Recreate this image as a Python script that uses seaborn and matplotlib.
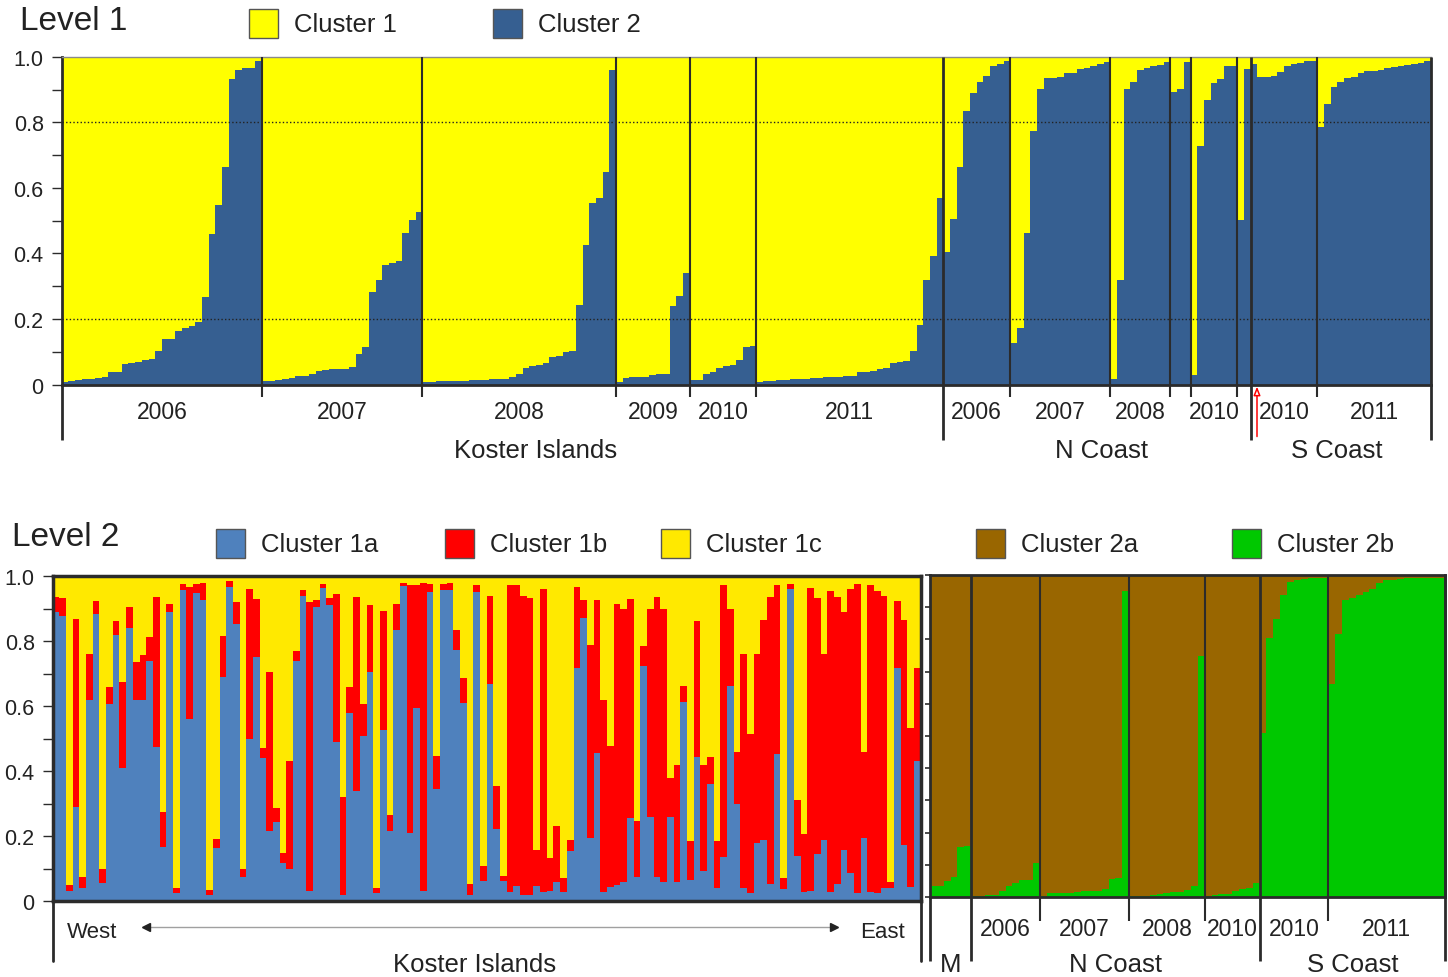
"""
STRUCTURE admixture bar plots (Level 1 / Level 2 clustering)
Run with: python plot.py  -> writes out.png
"""
import numpy as np
import matplotlib
matplotlib.use('Agg')
import matplotlib.pyplot as plt
from matplotlib.patches import Rectangle
from matplotlib.ticker import MultipleLocator, FixedLocator
import seaborn as sns

sns.set_style('white')
plt.rcParams['font.family'] = ['Liberation Sans', 'DejaVu Sans']

# colours
YEL1 = '#FFFF00'
BLUE1 = '#365F91'
BLUE2 = '#4F81BD'
RED2 = '#FF0000'
YEL2 = '#FFE900'
BROWN = '#996600'
GREEN = '#00C800'
DARK = '#2b2b2b'
TXT = '#222222'

# ── LEVEL 1: share of Cluster 2 per individual ───────────────
k_2006 = [0.009, 0.012, 0.014, 0.016, 0.016, 0.020, 0.024, 0.038, 0.040, 0.063,
          0.066, 0.070, 0.075, 0.079, 0.104, 0.139, 0.139, 0.163, 0.174, 0.180,
          0.192, 0.266, 0.459, 0.549, 0.665, 0.932, 0.959, 0.965, 0.965, 0.986]
k_2007 = [0.011, 0.011, 0.014, 0.016, 0.019, 0.026, 0.028, 0.032, 0.042, 0.045,
          0.047, 0.048, 0.049, 0.053, 0.093, 0.116, 0.284, 0.319, 0.365, 0.371,
          0.378, 0.464, 0.502, 0.527]
k_2008 = [0.008, 0.009, 0.010, 0.010, 0.011, 0.012, 0.012, 0.013, 0.014, 0.015,
          0.017, 0.017, 0.018, 0.024, 0.033, 0.051, 0.058, 0.061, 0.066, 0.083,
          0.088, 0.100, 0.104, 0.243, 0.426, 0.554, 0.569, 0.650, 0.959]
k_2009 = [0.007, 0.020, 0.022, 0.023, 0.024, 0.030, 0.033, 0.034, 0.239, 0.269, 0.340]
k_2010 = [0.014, 0.014, 0.034, 0.040, 0.050, 0.056, 0.060, 0.075, 0.116, 0.119]
k_2011 = [0.009, 0.010, 0.011, 0.014, 0.015, 0.016, 0.017, 0.018, 0.019, 0.021,
          0.022, 0.023, 0.024, 0.025, 0.027, 0.038, 0.040, 0.043, 0.048, 0.051,
          0.065, 0.068, 0.073, 0.104, 0.182, 0.320, 0.393, 0.569]
n_2006 = [0.405, 0.505, 0.665, 0.835, 0.889, 0.924, 0.940, 0.973, 0.978, 0.986]
n_2007 = [0.127, 0.173, 0.461, 0.772, 0.903, 0.934, 0.935, 0.939, 0.950, 0.950,
          0.964, 0.967, 0.973, 0.978, 0.983]
n_2008 = [0.017, 0.319, 0.903, 0.924, 0.959, 0.965, 0.973, 0.976, 0.985]
n_2009 = [0.891, 0.901, 0.985]
n_2010 = [0.030, 0.727, 0.869, 0.920, 0.932, 0.973, 0.973]
n_extra = [0.502, 0.962]
s_2010 = [0.978, 0.937, 0.937, 0.940, 0.954, 0.973, 0.978, 0.981, 0.986, 0.988]
s_2011 = [0.787, 0.856, 0.907, 0.924, 0.935, 0.937, 0.950, 0.955, 0.955, 0.959,
          0.967, 0.970, 0.973, 0.976, 0.978, 0.980, 0.986]

l1_groups = [k_2006, k_2007, k_2008, k_2009, k_2010, k_2011,
             n_2006, n_2007, n_2008, n_2009, n_2010, n_extra, s_2010, s_2011]
l1_years = ['2006', '2007', '2008', '2009', '2010', '2011',
            '2006', '2007', '2008', '', '2010', '', '2010', '2011']
l1_regions = ['Koster Islands', 'N Coast', 'S Coast']
l1_region_ngroups = [6, 6, 2]

# ── LEVEL 2, Koster Islands: Cluster 1a and 1b shares (1c = rest) ──
q1a = [0.890, 0.877, 0.030, 0.290, 0.040, 0.620, 0.884, 0.055, 0.605, 0.818,
       0.410, 0.840, 0.620, 0.620, 0.740, 0.473, 0.167, 0.889, 0.026, 0.958,
       0.560, 0.948, 0.927, 0.018, 0.162, 0.690, 0.967, 0.853, 0.075, 0.500,
       0.750, 0.440, 0.215, 0.242, 0.116, 0.097, 0.740, 0.937, 0.030, 0.905,
       0.963, 0.910, 0.490, 0.018, 0.578, 0.338, 0.507, 0.705, 0.024, 0.526,
       0.215, 0.833, 0.969, 0.210, 0.594, 0.032, 0.951, 0.346, 0.958, 0.958,
       0.772, 0.608, 0.018, 0.951, 0.061, 0.669, 0.223, 0.061, 0.027, 0.047,
       0.020, 0.018, 0.047, 0.027, 0.031, 0.057, 0.027, 0.154, 0.718, 0.871,
       0.193, 0.454, 0.027, 0.042, 0.049, 0.057, 0.254, 0.075, 0.722, 0.259,
       0.075, 0.057, 0.259, 0.057, 0.613, 0.065, 0.442, 0.092, 0.360, 0.039,
       0.134, 0.661, 0.297, 0.041, 0.024, 0.177, 0.187, 0.052, 0.451, 0.036,
       0.959, 0.138, 0.027, 0.031, 0.144, 0.187, 0.027, 0.052, 0.157, 0.085,
       0.024, 0.193, 0.027, 0.024, 0.039, 0.039, 0.718, 0.172, 0.044, 0.431]
q1b = [0.045, 0.055, 0.020, 0.577, 0.034, 0.140, 0.039, 0.045, 0.052, 0.045,
       0.264, 0.065, 0.115, 0.136, 0.073, 0.462, 0.108, 0.025, 0.015, 0.017,
       0.407, 0.028, 0.053, 0.016, 0.028, 0.125, 0.017, 0.067, 0.025, 0.460,
       0.178, 0.030, 0.490, 0.043, 0.032, 0.333, 0.030, 0.021, 0.890, 0.022,
       0.013, 0.022, 0.456, 0.302, 0.082, 0.597, 0.098, 0.205, 0.015, 0.366,
       0.051, 0.080, 0.011, 0.761, 0.377, 0.948, 0.025, 0.100, 0.018, 0.022,
       0.063, 0.078, 0.034, 0.020, 0.048, 0.271, 0.130, 0.017, 0.944, 0.924,
       0.920, 0.914, 0.110, 0.934, 0.100, 0.175, 0.043, 0.034, 0.248, 0.056,
       0.596, 0.473, 0.591, 0.434, 0.866, 0.841, 0.674, 0.171, 0.062, 0.639,
       0.860, 0.841, 0.118, 0.363, 0.048, 0.119, 0.420, 0.326, 0.082, 0.145,
       0.837, 0.237, 0.160, 0.720, 0.489, 0.584, 0.677, 0.883, 0.520, 0.034,
       0.017, 0.172, 0.178, 0.932, 0.788, 0.574, 0.927, 0.883, 0.732, 0.874,
       0.952, 0.264, 0.944, 0.930, 0.901, 0.020, 0.205, 0.692, 0.487, 0.287]

# ── LEVEL 2, coasts: Cluster 2b share (2a = rest) ────────────
m_all = [0.033, 0.033, 0.049, 0.062, 0.155, 0.158]
c_n2006 = [0.003, 0.003, 0.005, 0.007, 0.018, 0.033, 0.042, 0.054, 0.054, 0.107]
c_n2007 = [0.003, 0.012, 0.012, 0.012, 0.012, 0.016, 0.020, 0.020, 0.020, 0.025,
           0.057, 0.060, 0.950]
c_n2008 = [0.003, 0.003, 0.003, 0.005, 0.008, 0.012, 0.016, 0.016, 0.021, 0.033, 0.750]
c_n2010 = [0.003, 0.007, 0.010, 0.010, 0.019, 0.026, 0.029, 0.042]
c_s2010 = [0.509, 0.805, 0.864, 0.938, 0.979, 0.983, 0.989, 0.992, 0.992, 0.992]
c_s2011 = [0.661, 0.817, 0.921, 0.929, 0.938, 0.947, 0.958, 0.974, 0.983, 0.983,
           0.989, 0.992, 0.992, 0.992, 0.992, 0.992, 0.992]

l2c_groups = [m_all, c_n2006, c_n2007, c_n2008, c_n2010, c_s2010, c_s2011]
l2c_years = ['', '2006', '2007', '2008', '2010', '2010', '2011']
l2c_regions = ['M', 'N Coast', 'S Coast']
l2c_region_ngroups = [1, 4, 2]

W, H = 1448, 978


def fx(x):
    return x / W


def fy(y):
    return 1 - y / H


def stack(ax, layers):
    # layers drawn back to front, each one a full-height cumulative bar
    for vals, col in layers:
        vals = np.asarray(vals, dtype=float)
        sns.barplot(x=np.arange(len(vals)), y=vals, color=col, width=1,
                    native_scale=True, saturation=1, linewidth=0,
                    antialiased=False, errorbar=None, ax=ax)
    ax.set_xlim(-0.5, len(vals) - 0.5)
    ax.set_ylim(0, 1)
    ax.set_xticks([])
    ax.set_xlabel('')
    ax.set_ylabel('')


def y_axis(ax, labels=True, length=7):
    ax.yaxis.set_major_locator(FixedLocator([0, 0.2, 0.4, 0.6, 0.8, 1.0]))
    ax.yaxis.set_minor_locator(MultipleLocator(0.1))
    if labels:
        ax.set_yticklabels(['0', '0.2', '0.4', '0.6', '0.8', '1.0'])
    else:
        ax.set_yticklabels([])
    ax.tick_params(axis='y', which='both', left=True, direction='out',
                   length=length, width=1, color=DARK, labelsize=15.5,
                   labelcolor=TXT, pad=6)


def group_bounds(groups):
    sizes = np.array([len(g) for g in groups])
    ends = np.cumsum(sizes)
    starts = ends - sizes
    return starts, ends


def vline(ax, x, y0, y1, lw=1.5):
    ax.plot([x, x], [y0, y1], color=DARK, lw=lw, clip_on=False,
            transform=ax.get_xaxis_transform(), zorder=6, solid_capstyle='butt')


def legend_box(x, y, col, label):
    fig.patches.append(Rectangle((fx(x), fy(y + 29)), fx(29), 29 / H,
                                 transform=fig.transFigure, facecolor=col,
                                 edgecolor='#555555', lw=1))
    fig.text(fx(x + 45), fy(y + 15), label, fontsize=18.5, color=TXT,
             ha='left', va='center')


fig = plt.figure(figsize=(W / 100, H / 100), dpi=100)

# ── 1. LEVEL 1 PANEL ─────────────────────────────────────────
ax1 = fig.add_axes([fx(61.7), fy(385.7), fx(1431 - 61.7), 328 / H])
q2 = np.concatenate(l1_groups)
stack(ax1, [(np.ones(len(q2)), YEL1), (q2, BLUE1)])
y_axis(ax1)
for sp in ['left', 'bottom']:
    ax1.spines[sp].set_color(DARK)
    ax1.spines[sp].set_linewidth(2)
ax1.spines['top'].set_color('#8a8a8a')
ax1.spines['top'].set_linewidth(1)
ax1.spines['right'].set_visible(False)
for yv in [0.2, 0.8]:
    ax1.axhline(yv, color='#222222', lw=1, ls=(0, (1, 1.6)), zorder=5)

starts, ends = group_bounds(l1_groups)
region_end_groups = np.cumsum(l1_region_ngroups)
vline(ax1, -0.5, 0, -0.168, lw=2)
for gi, e in enumerate(ends):
    long_line = (gi + 1) in region_end_groups
    vline(ax1, e - 0.5, 1, -0.168 if long_line else -0.037,
          lw=2 if long_line else 1.5)
for s, e, lab in zip(starts, ends, l1_years):
    ax1.text((s + e) / 2 - 0.5, -0.1025, lab, transform=ax1.get_xaxis_transform(),
             ha='center', va='baseline', fontsize=16.5, color=TXT)
for lab, xa in zip(l1_regions, [0.3457, 0.7597, 0.9313]):
    ax1.text(xa, -0.2204, lab, transform=ax1.transAxes, ha='center',
             va='baseline', fontsize=18.5, color=TXT)
# arrow marking the first S Coast individual
s_first = starts[12] + 0.45
ax1.annotate('', xy=(s_first, -0.006), xycoords=ax1.get_xaxis_transform(),
             xytext=(s_first, -0.158), textcoords=ax1.get_xaxis_transform(),
             arrowprops=dict(arrowstyle='-|>,head_length=0.5,head_width=0.2',
                             edgecolor='red', facecolor='white', lw=1.1,
                             shrinkA=0, shrinkB=0),
             annotation_clip=False, zorder=8)

# ── 2. LEVEL 2 PANEL, KOSTER ISLANDS ─────────────────────────
ax2 = fig.add_axes([fx(52.7), fy(902), fx(920.7 - 52.7), 325 / H])
a = np.asarray(q1a)
b = np.asarray(q1b)
stack(ax2, [(np.ones(len(a)), YEL2), (a + b, RED2), (a, BLUE2)])
y_axis(ax2)
for sp in ax2.spines.values():
    sp.set_color(DARK)
    sp.set_linewidth(2.5)
for xa in [0, 1]:
    ax2.plot([xa, xa], [0, -0.185], transform=ax2.transAxes, color=DARK,
             lw=2, clip_on=False)
ax2.plot([0.107, 0.900], [-0.08, -0.08], transform=ax2.transAxes,
         color='#a0a0a0', lw=1, clip_on=False)
ax2.plot([0.107], [-0.08], marker='<', ms=6, color=TXT, transform=ax2.transAxes,
         clip_on=False)
ax2.plot([0.900], [-0.08], marker='>', ms=6, color=TXT, transform=ax2.transAxes,
         clip_on=False)
ax2.text(0.0165, -0.111, 'West', transform=ax2.transAxes, ha='left',
         va='baseline', fontsize=16, color=TXT)
ax2.text(0.9815, -0.111, 'East', transform=ax2.transAxes, ha='right',
         va='baseline', fontsize=16, color=TXT)
ax2.text(0.4855, -0.215, 'Koster Islands', transform=ax2.transAxes,
         ha='center', va='baseline', fontsize=18.5, color=TXT)

# ── 3. LEVEL 2 PANEL, COASTS ─────────────────────────────────
ax3 = fig.add_axes([fx(930), fy(898), fx(1445 - 930), 322 / H])
g2b = np.concatenate(l2c_groups)
stack(ax3, [(np.ones(len(g2b)), BROWN), (g2b, GREEN)])
ax3.yaxis.set_major_locator(MultipleLocator(0.1))
ax3.set_yticklabels([])
ax3.tick_params(axis='y', which='both', left=True, direction='out', length=3.5,
                width=1.2, color=DARK)
for sp in ax3.spines.values():
    sp.set_color(DARK)
    sp.set_linewidth(2)

starts, ends = group_bounds(l2c_groups)
region_end_groups = np.cumsum(l2c_region_ngroups)
vline(ax3, -0.5, 0, -0.2, lw=2)
for gi, e in enumerate(ends):
    long_line = (gi + 1) in region_end_groups or gi == 0
    vline(ax3, e - 0.5, 1, -0.2 if long_line else -0.075,
          lw=2 if long_line else 1.5)
for s, e, lab in zip(starts, ends, l2c_years):
    ax3.text((s + e) / 2 - 0.5, -0.118, lab, transform=ax3.get_xaxis_transform(),
             ha='center', va='baseline', fontsize=16.5, color=TXT)
g = 0
for lab, ng in zip(l2c_regions, l2c_region_ngroups):
    s, e = starts[g], ends[g + ng - 1]
    ax3.text((s + e) / 2 - 0.5, -0.23, lab, transform=ax3.get_xaxis_transform(),
             ha='center', va='baseline', fontsize=18.5, color=TXT)
    g += ng

# ── 4. TITLES AND LEGENDS ────────────────────────────────────
fig.text(fx(20), fy(22), 'Level 1', fontsize=24, color=TXT, ha='left', va='center')
legend_box(249, 10, YEL1, 'Cluster 1')
legend_box(493, 10, BLUE1, 'Cluster 2')

fig.text(fx(12), fy(538), 'Level 2', fontsize=24, color=TXT, ha='left', va='center')
legend_box(216, 530, BLUE2, 'Cluster 1a')
legend_box(445, 530, RED2, 'Cluster 1b')
legend_box(661, 530, YEL2, 'Cluster 1c')
legend_box(976, 530, BROWN, 'Cluster 2a')
legend_box(1232, 530, GREEN, 'Cluster 2b')

fig.savefig('out.png', dpi=100)
plt.close(fig)
